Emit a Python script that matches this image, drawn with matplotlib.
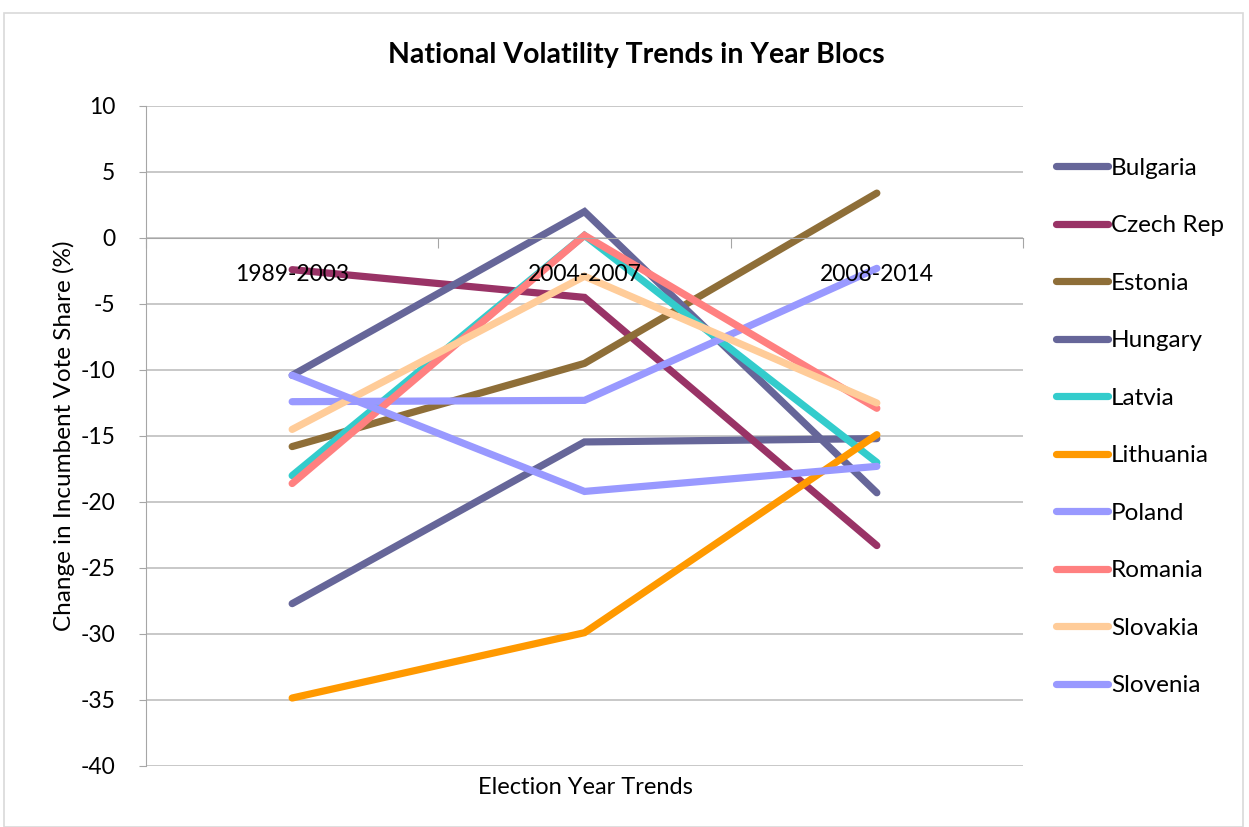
import matplotlib
matplotlib.use("Agg")
import matplotlib.pyplot as plt
from matplotlib.patches import Rectangle
from matplotlib.ticker import FixedLocator, NullFormatter

plt.rcParams['font.family'] = ['Lato', 'DejaVu Sans']
plt.rcParams['axes.unicode_minus'] = False

# Year blocs on the category axis
blocs = ["1989-2003", "2004-2007", "2008-2014"]

# Change in incumbent vote share (%) per country and year bloc
bulgaria = [-27.7, -15.45, -15.2]
czech_rep = [-2.4, -4.5, -23.3]
estonia = [-15.8, -9.5, 3.4]
hungary = [-10.4, 2.0, -19.3]
latvia = [-18.0, 0.2, -17.0]
lithuania = [-34.85, -29.9, -14.9]
poland = [-12.4, -12.3, -2.3]
romania = [-18.6, 0.2, -12.9]
slovakia = [-14.5, -2.9, -12.5]
slovenia = [-10.4, -19.2, -17.3]

series = [
    ("Bulgaria", bulgaria, "#666699"),
    ("Czech Rep", czech_rep, "#993366"),
    ("Estonia", estonia, "#8E6E38"),
    ("Hungary", hungary, "#666699"),
    ("Latvia", latvia, "#33CCCC"),
    ("Lithuania", lithuania, "#FF9900"),
    ("Poland", poland, "#9999FF"),
    ("Romania", romania, "#FF8080"),
    ("Slovakia", slovakia, "#FFCC99"),
    ("Slovenia", slovenia, "#9999FF"),
]

fig = plt.figure(figsize=(12.49, 8.27), dpi=100)
ax = fig.add_axes([146 / 1249, 1 - 766 / 827, (1023 - 146) / 1249, (766 - 106) / 827])

x = list(range(len(blocs)))
for name, vals, col in series:
    ax.plot(x, vals, color=col, lw=5.2, solid_capstyle="round",
            solid_joinstyle="miter", label=name)

ax.set_xlim(-0.5, len(blocs) - 0.5)
ax.set_ylim(-40, 10)
ax.set_yticks(range(-40, 11, 5))
ax.yaxis.grid(True, color="#BFBFBF", lw=1.2)
ax.set_axisbelow(True)

# Category axis crosses the value axis at zero; its labels sit above the lines
ax.spines["bottom"].set_position(("data", 0))
ax.spines["bottom"].set_color("#A6A6A6")
ax.spines["left"].set_color("#A6A6A6")
ax.spines["top"].set_visible(False)
ax.spines["right"].set_visible(False)
ax.xaxis.set_zorder(3)

ax.xaxis.set_major_locator(FixedLocator([i - 0.5 for i in range(len(blocs) + 1)]))
ax.xaxis.set_major_formatter(NullFormatter())
ax.xaxis.set_minor_locator(FixedLocator(x))
ax.set_xticklabels(blocs, minor=True)
ax.tick_params(axis="x", which="major", length=7, color="#A6A6A6", direction="out")
ax.tick_params(axis="x", which="minor", length=0, pad=19, labelsize=16.5)
ax.tick_params(axis="y", length=5, color="#A6A6A6", labelsize=16.5, pad=17)

ax.set_ylabel("Change in Incumbent Vote Share (%)", fontsize=17.5, labelpad=3.7)
fig.text(585 / 1249, 1 - 787 / 827, "Election Year Trends", ha="center",
         va="center", fontsize=17)
fig.text(636 / 1249, 1 - 55 / 827, "National Volatility Trends in Year Blocs",
         ha="center", va="center", fontsize=20.5, fontweight="bold")

leg = ax.legend(loc="upper left", bbox_to_anchor=(1023 / 1249 + 0.009, 1 - 136 / 827),
                bbox_transform=fig.transFigure, frameon=False, fontsize=17.5,
                handlelength=2.15, handletextpad=0.1, labelspacing=1.5)

# Chart border
fig.patches.append(Rectangle((4 / 1249, 0), (1243 - 4) / 1249, 1 - 13 / 827,
                             transform=fig.transFigure, fill=False,
                             edgecolor="#D9D9D9", lw=1.2))

fig.savefig("out.png", dpi=100)
